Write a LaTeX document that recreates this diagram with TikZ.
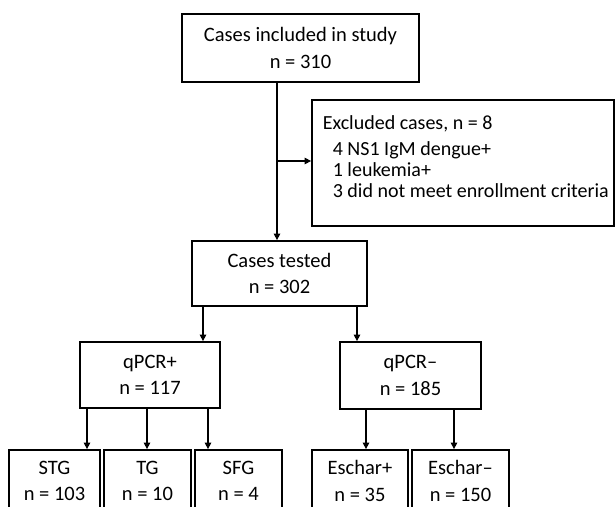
\documentclass[tikz,border=0pt]{standalone}
\usepackage{fontspec}
\setmainfont{Carlito}
\usetikzlibrary{arrows.meta,calc}
\begin{document}
\begin{tikzpicture}[x=1pt,y=-1pt,
  box/.style={draw=black,line width=1.8pt,inner sep=0pt,align=center,
    font=\fontsize{20.5}{26.5}\selectfont},
  arr/.style={line width=1.3pt,-{Triangle[length=6.5pt,width=6.5pt]}}]
\useasboundingbox (0,0) rectangle (615,506);
\clip (0,0) rectangle (615,506);
\fill[white] (0,0) rectangle (615,506);

\node[box,minimum width=237pt,minimum height=68pt] (top) at (300.5,48) {Cases included in study\\n = 310};
\node[box,minimum width=302pt,minimum height=126pt] (excl) at (463,163) {};
\node[anchor=north west,inner sep=0pt,align=left,
  font=\fontsize{20}{21}\selectfont] (excltext) at ([shift={(11.5pt,-16pt)}]excl.north west)
  {Excluded cases, n = 8\\[5pt]
   \hspace*{10pt}4 NS1 IgM dengue+\\
   \hspace*{10pt}1 leukemia+\\
   \hspace*{10pt}3 did not meet enrollment criteria};
\node[box,minimum width=175pt,minimum height=65pt] (tested) at (279.5,273.5) {Cases tested\\n = 302};
\node[box,minimum width=140pt,minimum height=66pt] (qpos) at (150,375) {qPCR+\\n = 117};
\node[box,minimum width=141pt,minimum height=67pt] (qneg) at (410.5,375.5) {qPCR–\\n = 185};
\node[box,minimum width=91pt,minimum height=62pt] (stg) at (54.5,481) {STG\\n = 103};
\node[box,minimum width=87pt,minimum height=62pt] (tg) at (147.5,481) {TG\\n = 10};
\node[box,minimum width=87pt,minimum height=62pt] (sfg) at (238.5,481) {SFG\\n = 4};
\node[box,minimum width=96pt,minimum height=62pt] (esp) at (360,481) {Eschar+\\n = 35};
\node[box,minimum width=97pt,minimum height=62pt] (esn) at (460.5,481) {Eschar–\\n = 150};

\coordinate (trunk) at ([xshift=-23.5pt]top.south);
\draw[arr] (trunk) -- (trunk |- tested.north);
\coordinate (branch) at ([yshift=2pt]excl.west);
\draw[arr] (trunk |- branch) -- (branch);

\coordinate (t1) at ([xshift=-76.5pt]tested.south);
\coordinate (t2) at ([xshift=77.5pt]tested.south);
\draw[arr] (t1) -- (t1 |- qpos.north);
\draw[arr] (t2) -- (t2 |- qneg.north);

\coordinate (p1) at ([xshift=-63pt]qpos.south);
\coordinate (p2) at ([xshift=-3pt]qpos.south);
\coordinate (p3) at ([xshift=58pt]qpos.south);
\draw[arr] (p1) -- (p1 |- stg.north);
\draw[arr] (p2) -- (p2 |- tg.north);
\draw[arr] (p3) -- (p3 |- sfg.north);

\coordinate (n1) at ([xshift=-44.5pt]qneg.south);
\coordinate (n2) at ([xshift=43.5pt]qneg.south);
\draw[arr] (n1) -- (n1 |- esp.north);
\draw[arr] (n2) -- (n2 |- esn.north);
\end{tikzpicture}
\end{document}
